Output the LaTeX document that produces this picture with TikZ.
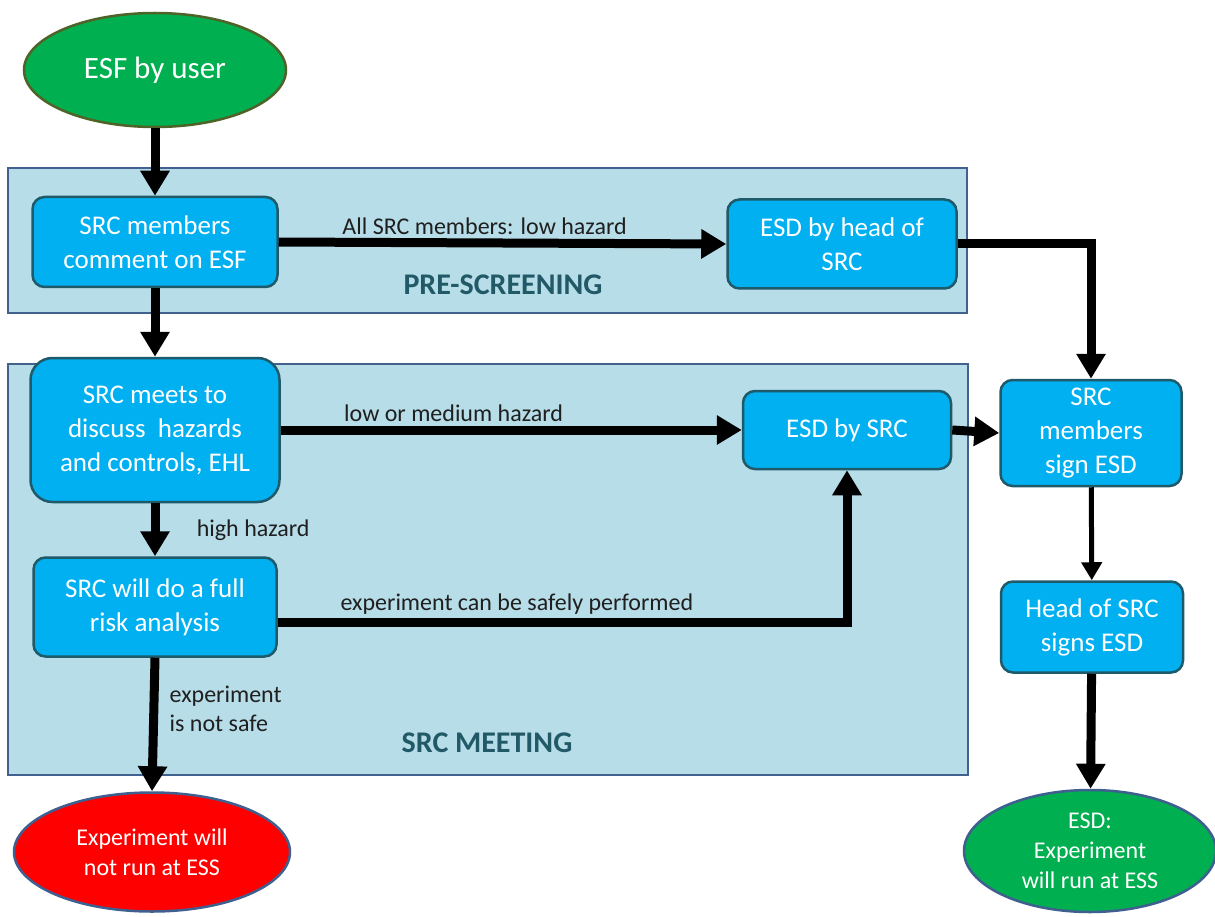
\documentclass[tikz,border=0pt]{standalone}
\usepackage{fontspec}
\setmainfont{Carlito}
\usetikzlibrary{positioning,shapes.geometric,arrows.meta}

\definecolor{boxblue}{HTML}{00B0F0}
\definecolor{boxedge}{HTML}{1F5A6B}
\definecolor{areafill}{HTML}{B7DDE8}
\definecolor{areaedge}{HTML}{41628F}
\definecolor{okgreen}{HTML}{00B050}
\definecolor{olivegreen}{HTML}{4F6228}
\definecolor{ovaledge}{HTML}{3F5F8F}
\definecolor{areatext}{HTML}{215967}
\definecolor{stopred}{HTML}{FF0000}

\begin{document}
\begin{tikzpicture}[x=1pt, y=-1pt,
    procbox/.style={draw=boxedge, line width=2.5pt, fill=boxblue, rounded corners=12pt,
                    text=white, align=center, inner sep=0pt,
                    font=\fontsize{27}{34}\selectfont},
    oval/.style={ellipse, draw=ovaledge, line width=2.5pt, text=white, align=center,
                 inner sep=0pt, font=\fontsize{24}{30}\selectfont},
    area/.style={draw=areaedge, line width=2.5pt, fill=areafill},
    arealbl/.style={font=\bfseries\fontsize{30}{34}\selectfont, text=areatext},
    lbl/.style={font=\fontsize{24}{29}\selectfont, text=black!88},
    flow/.style={line width=9pt, -{Triangle[width=28pt,length=25pt]}}
]
\useasboundingbox (0,0) rectangle (1215,917);

% --- Background areas ---
\draw[area] (8,168) rectangle (967,313);
\draw[area] (8,364) rectangle (968,775);
\node[arealbl] (prelbl) at (503,285) {PRE-SCREENING};
\node[arealbl] (meetlbl) at (487,743) {SRC MEETING};

% --- Start ---
\node[oval, fill=okgreen, draw=olivegreen, minimum width=262pt, minimum height=114pt,
      font=\fontsize{31}{36}\selectfont] (esf) at (155,70) {ESF by user};

% --- Left column ---
\node[procbox, minimum width=245pt, minimum height=90pt] (comment) at (155,242)
    {SRC members\\comment on ESF};
\node[procbox, rounded corners=22pt, minimum width=249pt, minimum height=144pt] (meets) at (155,430)
    {SRC meets to\\discuss \ hazards\\and controls, EHL};
\node[procbox, minimum width=243pt, minimum height=99pt] (fullrisk) at (155,607)
    {SRC will do a full\\risk analysis};

% --- Middle column ---
\node[procbox, minimum width=229pt, minimum height=89pt] (headesd) at (842,244)
    {ESD by head of\\SRC};
\node[procbox, minimum width=208pt, minimum height=78pt] (srcesd) at (847,430)
    {ESD by SRC};

% --- Right column ---
\node[procbox, minimum width=181pt, minimum height=106pt] (sign) at (1091,433)
    {SRC\\members\\sign ESD};
\node[procbox, minimum width=182pt, minimum height=91pt] (headsign) at (1092,627)
    {Head of SRC\\signs ESD};

% --- Ends ---
\node[oval, fill=stopred, minimum width=276pt, minimum height=119pt] (norun) at (152,852)
    {Experiment will\\not run at ESS};
\node[oval, fill=okgreen, minimum width=252pt, minimum height=122pt] (esdrun) at (1090,851)
    {ESD:\\Experiment\\will run at ESS};

% --- Arrows ---
\draw[flow] (esf) -- (comment);
\draw[flow] (comment.east) -- node[lbl, above, pos=0.46] (lowlbl) {All SRC members: low hazard} (headesd.west);
\draw[flow] (comment) -- (meets);
\draw[flow] (headesd.east) -| (sign.north);
\draw[flow] (meets.east) -- node[lbl, above, pos=0.375] (medlbl) {low or medium hazard} (srcesd.west);
\draw[flow] (srcesd.east) -- (sign.west);
\draw[flow] (meets) -- node[lbl, right=34pt] (highlbl) {high hazard} (fullrisk);
\draw[flow] ([yshift=-15pt]fullrisk.east) -| node[lbl, above, pos=0.21] (safelbl) {experiment can be safely performed} (srcesd.south);
\draw[flow] (fullrisk.south) -- node[lbl, right=8pt, align=left, pos=0.38] (unsafelbl) {experiment\\is not safe} (norun.north);
\draw[flow, line width=5pt, -{Triangle[width=20pt,length=18pt]}] (sign) -- (headsign);
\draw[flow] (headsign) -- (esdrun);

\end{tikzpicture}
\end{document}
